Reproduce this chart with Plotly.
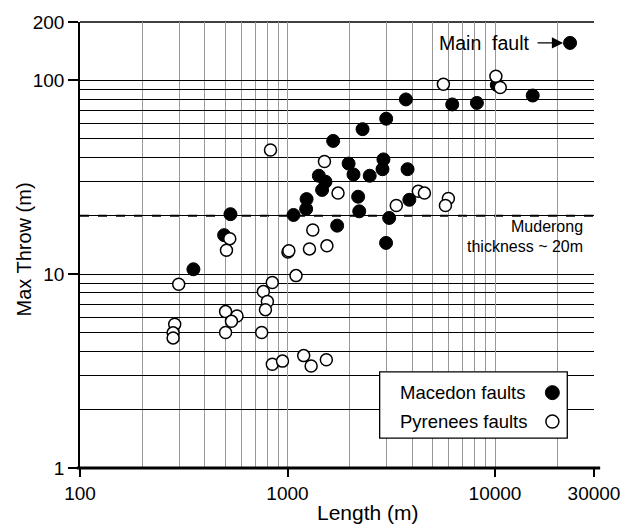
import math
import plotly.graph_objects as go

# Fault length (m) and maximum throw (m)
macedon_length = [23000, 15200, 8180, 6220, 3720, 2990, 2300, 1660, 1970, 2080,
                  2490, 2900, 2870, 3790, 1416, 1524, 1468, 1236, 1230, 1069,
                  2190, 2217, 3865, 3090, 1735, 2985, 531, 495, 352, 10200]
macedon_throw = [156, 83.5, 76.5, 75.1, 79.7, 63.4, 56.0, 48.7, 37.2, 32.7,
                 32.2, 39.1, 34.8, 34.8, 32.2, 30.0, 27.2, 24.4, 21.7, 20.2,
                 25.1, 21.1, 24.2, 19.5, 17.8, 14.5, 20.4, 15.9, 10.6, 94.6]

pyrenees_length = [10100, 10600, 5640, 828, 1507, 1752, 4270, 4570, 5960, 5770,
                   3345, 1324, 1549, 1276, 1005, 1015, 527, 508, 1099, 299,
                   845, 765, 800, 783, 503, 571, 537, 503, 751, 286,
                   281, 281, 845, 946, 1197, 1300, 1539]
pyrenees_throw = [105, 91.8, 95.4, 43.7, 38.1, 26.2, 26.8, 26.2, 24.6, 22.6,
                  22.6, 16.9, 14.0, 13.5, 13.0, 13.2, 15.25, 13.3, 9.83, 8.87,
                  9.05, 8.13, 7.23, 6.56, 6.41, 6.08, 5.71, 5.00, 5.00, 5.52,
                  4.98, 4.69, 3.43, 3.56, 3.80, 3.36, 3.62]

x_major = [100, 1000, 10000, 30000]
x_major_text = ["100", "1000", "10000", "30000"]
x_minor = [200, 300, 400, 500, 600, 700, 800, 900,
           2000, 3000, 4000, 5000, 6000, 7000, 8000, 9000, 20000]
y_major = [1, 10, 100, 200]
y_major_text = ["1", "10", "100", "200"]
y_minor = [2, 3, 4, 5, 6, 7, 8, 9, 20, 30, 40, 50, 60, 70, 80, 90]

muderong_thickness = 20

FONT = "Liberation Sans, Arial, sans-serif"
VGRID = "#999999"

fig = go.Figure()

fig.add_trace(go.Scatter(
    x=macedon_length, y=macedon_throw, mode="markers", name="Macedon faults",
    marker=dict(symbol="circle", size=13, color="black",
                line=dict(color="black", width=1)),
    showlegend=False, cliponaxis=False,
))
fig.add_trace(go.Scatter(
    x=pyrenees_length, y=pyrenees_throw, mode="markers", name="Pyrenees faults",
    marker=dict(symbol="circle", size=12, color="white",
                line=dict(color="black", width=1.5)),
    showlegend=False, cliponaxis=False,
))

shapes = [
    # Muderong thickness reference line
    dict(type="line", xref="paper", yref="y", x0=0, x1=1,
         y0=muderong_thickness, y1=muderong_thickness,
         line=dict(color="black", width=2, dash="dash"), layer="below"),
    # top frame
    dict(type="line", xref="paper", yref="paper", x0=0, x1=1, y0=1, y1=1,
         line=dict(color="black", width=1.5), layer="below"),
    # heavy bottom axis
    dict(type="line", xref="paper", yref="paper", x0=-0.006, x1=1.012, y0=0, y1=0,
         line=dict(color="black", width=3), layer="above"),
    # legend box
    dict(type="rect", xref="paper", yref="paper", x0=0.583, x1=0.948,
         y0=0.067, y1=0.2156, line=dict(color="black", width=1.3),
         fillcolor="white", layer="above"),
    dict(type="circle", xref="paper", yref="paper", xsizemode="pixel",
         ysizemode="pixel", xanchor=0.919, yanchor=0.169,
         x0=-7, x1=7, y0=-7, y1=7, fillcolor="black",
         line=dict(color="black", width=1), layer="above"),
    dict(type="circle", xref="paper", yref="paper", xsizemode="pixel",
         ysizemode="pixel", xanchor=0.919, yanchor=0.104,
         x0=-6.5, x1=6.5, y0=-6.5, y1=6.5, fillcolor="white",
         line=dict(color="black", width=1.5), layer="above"),
]

annotations = [
    dict(text="Main\u00a0 fault", xref="paper", yref="paper", x=0.879, y=0.953,
         xanchor="right", yanchor="middle", showarrow=False,
         font=dict(size=19.5, family=FONT, color="black")),
    dict(text="", x=math.log10(macedon_length[0]), y=math.log10(macedon_throw[0]),
         xref="x", yref="y", showarrow=True, ax=-34, ay=0, standoff=7,
         arrowhead=2, arrowsize=1.6, arrowwidth=1.4, arrowcolor="black"),
    dict(text="Muderong", xref="paper", yref="paper", x=0.98, y=0.541,
         xanchor="right", yanchor="middle", showarrow=False, borderpad=0,
         font=dict(size=16, family=FONT, color="black")),
    dict(text="thickness ~ 20m", xref="paper", yref="paper", x=0.98, y=0.496,
         xanchor="right", yanchor="middle", showarrow=False, borderpad=0,
         font=dict(size=16, family=FONT, color="black")),
    dict(text="Macedon faults", xref="paper", yref="paper", x=0.618, y=0.169,
         xanchor="left", yanchor="middle", showarrow=False,
         font=dict(size=18.5, family=FONT, color="black")),
    dict(text="Pyrenees faults", xref="paper", yref="paper", x=0.618, y=0.104,
         xanchor="left", yanchor="middle", showarrow=False,
         font=dict(size=18.5, family=FONT, color="black")),
    dict(text="Length (m)", xref="paper", yref="paper", x=0.56, y=-0.1,
         xanchor="center", yanchor="middle", showarrow=False, borderpad=0,
         font=dict(size=21, family=FONT, color="black")),
    dict(text="Max Throw (m)", xref="paper", yref="paper", x=-0.108, y=0.491,
         xanchor="center", yanchor="middle", showarrow=False, textangle=-90,
         font=dict(size=20, family=FONT, color="black")),
]

fig.update_layout(
    width=632, height=526,
    margin=dict(l=80, r=32, t=18, b=58),
    paper_bgcolor="white", plot_bgcolor="white",
    font=dict(family=FONT, size=19, color="black"),
    shapes=shapes, annotations=annotations,
    showlegend=False,
)

fig.update_xaxes(
    type="log", range=[2, math.log10(30000)],
    tickmode="array", tickvals=x_major, ticktext=x_major_text,
    ticks="outside", ticklen=8, tickwidth=1.5, tickcolor="black",
    showgrid=True, gridcolor=VGRID, gridwidth=1.3,
    minor=dict(tickmode="array", tickvals=x_minor, showgrid=True,
               gridcolor=VGRID, gridwidth=1.3, ticks=""),
    showline=False, zeroline=False,
    tickfont=dict(size=19, family=FONT, color="black"),
)
fig.update_yaxes(
    type="log", range=[0, math.log10(200)],
    tickmode="array", tickvals=y_major, ticktext=y_major_text,
    ticks="outside", ticklen=10, tickwidth=1.5, tickcolor="black",
    showgrid=True, gridcolor="black", gridwidth=1.2,
    minor=dict(tickmode="array", tickvals=y_minor, showgrid=True,
               gridcolor="black", gridwidth=1.2, ticks=""),
    showline=True, linecolor="black", linewidth=1.5, zeroline=False,
    tickfont=dict(size=19, family=FONT, color="black"),
)

fig.write_html("out.html")
